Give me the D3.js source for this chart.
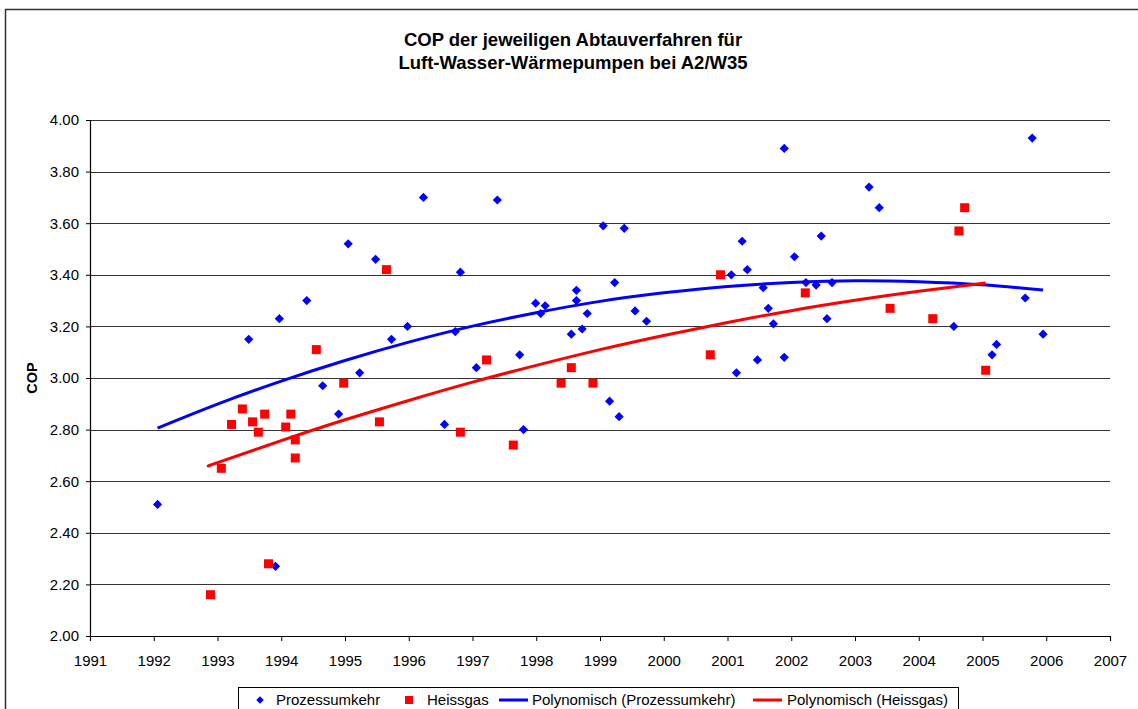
<!DOCTYPE html>
<html>
<head>
<meta charset="utf-8">
<script src="https://cdn.jsdelivr.net/npm/d3@7"></script>
<style>
  body { margin: 0; background: #fff; }
  text { font-family: "Liberation Sans", Arial, sans-serif; fill: #000; }
</style>
</head>
<body>
<div id="chart"></div>
<script>
// Prozessumkehr (blue diamonds)
var procYears = [1992.06,1993.49,1993.91,1993.97,1994.40,1994.65,1994.90,1995.05,1995.23,1995.48,
                 1995.73,1995.98,1996.23,1996.56,1996.73,1996.81,1997.06,1997.39,1997.74,1997.80,
                 1997.99,1998.07,1998.14,1998.55,1998.63,1998.63,1998.72,1998.80,1999.05,1999.15,
                 1999.23,1999.30,1999.38,1999.55,1999.73,2001.06,2001.14,2001.23,2001.31,2001.47,
                 2001.56,2001.64,2001.72,2001.89,2001.89,2002.05,2002.23,2002.39,2002.47,2002.56,
                 2002.64,2003.22,2003.38,2004.55,2005.15,2005.22,2005.67,2005.78,2005.95];
var procCop   = [2.51,3.15,2.27,3.23,3.30,2.97,2.86,3.52,3.02,3.46,
                 3.15,3.20,3.70,2.82,3.18,3.41,3.04,3.69,3.09,2.80,
                 3.29,3.25,3.28,3.17,3.34,3.30,3.19,3.25,3.59,2.91,
                 3.37,2.85,3.58,3.26,3.22,3.40,3.02,3.53,3.42,3.07,
                 3.35,3.27,3.21,3.89,3.08,3.47,3.37,3.36,3.55,3.23,
                 3.37,3.74,3.66,3.20,3.09,3.13,3.31,3.93,3.17];

// Heissgas (red squares)
var heissYears = [1992.89,1993.06,1993.22,1993.39,1993.55,1993.64,1993.74,1993.80,1994.07,1994.15,
                  1994.22,1994.22,1994.55,1994.98,1995.54,1995.65,1996.81,1997.22,1997.64,1998.39,
                  1998.55,1998.89,2000.73,2000.89,2002.22,2003.55,2004.22,2004.63,2004.72,2005.05];
var heissCop   = [2.16,2.65,2.82,2.88,2.83,2.79,2.86,2.28,2.81,2.86,
                  2.76,2.69,3.11,2.98,2.83,3.42,2.79,3.07,2.74,2.98,
                  3.04,2.98,3.09,3.40,3.33,3.27,3.23,3.57,3.66,3.03];

// trend lines
var trendProcYears = [1992.06,1993,1994,1995,1996,1997,1998,1999,2000,2001,2002,2003,2004,2005,2005.95];
var trendProcCop   = [2.806,2.899,2.988,3.068,3.139,3.201,3.253,3.297,3.330,3.355,3.370,3.377,3.373,3.361,3.341];
var trendHeissYears = [1992.89,1993,1994,1995,1996,1997,1998,1999,2000,2001,2002,2003,2004,2005.05];
var trendHeissCop   = [2.662,2.672,2.757,2.838,2.913,2.984,3.049,3.110,3.165,3.215,3.261,3.301,3.336,3.368];

var yearTicks = d3.range(1991, 2008);
var copTicks  = d3.range(0, 11).map(function(i) { return 2 + i * 0.2; });

var seriesNames = ["Prozessumkehr", "Heissgas", "Polynomisch (Prozessumkehr)", "Polynomisch (Heissgas)"];

var width = 1138, height = 709;
var plotLeft = 90, plotRight = 1110, plotTop = 120, plotBottom = 636;

var svg = d3.select("#chart").append("svg")
    .attr("width", width)
    .attr("height", height);

// outer chart frame
svg.append("rect")
    .attr("x", 5.5).attr("y", 9.5)
    .attr("width", 1160).attr("height", 760)
    .attr("fill", "none")
    .attr("stroke", "#333")
    .attr("stroke-width", 1.5);

var x = d3.scaleLinear().domain([1991, 2007]).range([plotLeft, plotRight]);
var y = d3.scaleLinear().domain([2, 4]).range([plotBottom, plotTop]);

// title
var title = svg.append("text")
    .attr("text-anchor", "middle")
    .style("font-size", "18.5px")
    .style("font-weight", "bold");
title.append("tspan").attr("x", 573).attr("y", 46).text("COP der jeweiligen Abtauverfahren für");
title.append("tspan").attr("x", 573).attr("y", 69).text("Luft-Wasser-Wärmepumpen bei A2/W35");

// gridlines
svg.append("g").selectAll("line")
    .data(copTicks.slice(1))
    .enter().append("line")
    .attr("x1", plotLeft).attr("x2", plotRight)
    .attr("y1", function(d) { return Math.round(y(d)) + 0.5; })
    .attr("y2", function(d) { return Math.round(y(d)) + 0.5; })
    .attr("stroke", "#333")
    .attr("stroke-width", 1);

// axes
var yAxis = svg.append("g")
    .attr("transform", "translate(" + plotLeft + ",0)")
    .call(d3.axisLeft(y).tickValues(copTicks).tickFormat(d3.format(".2f")).tickSize(4).tickPadding(7));
var xAxis = svg.append("g")
    .attr("transform", "translate(0," + plotBottom + ")")
    .call(d3.axisBottom(x).tickValues(yearTicks).tickFormat(d3.format("d")).tickSize(5).tickPadding(14));

[xAxis, yAxis].forEach(function(g) {
    g.select(".domain").attr("stroke", "#000").attr("stroke-width", 1.2);
    g.selectAll(".tick line").attr("stroke", "#000");
    g.selectAll("text").style("font-size", "15px").style("font-family", "'Liberation Sans', Arial, sans-serif").attr("fill", "#000");
});

// y axis title
svg.append("text")
    .attr("transform", "translate(37,378) rotate(-90)")
    .attr("text-anchor", "middle")
    .style("font-size", "14.5px")
    .style("font-weight", "bold")
    .text("COP");

// trend lines
var line = d3.line()
    .x(function(d) { return x(d[0]); })
    .y(function(d) { return y(d[1]); })
    .curve(d3.curveNatural);

svg.append("path")
    .datum(d3.zip(trendProcYears, trendProcCop))
    .attr("d", line)
    .attr("fill", "none")
    .attr("stroke", "#0000ff")
    .attr("stroke-width", 3);

svg.append("path")
    .datum(d3.zip(trendHeissYears, trendHeissCop))
    .attr("d", line)
    .attr("fill", "none")
    .attr("stroke", "#ff0000")
    .attr("stroke-width", 3);

// markers
var diamond = d3.symbol().type(d3.symbolDiamond2).size(54);
svg.append("g").selectAll("path")
    .data(d3.zip(procYears, procCop))
    .enter().append("path")
    .attr("d", diamond)
    .attr("transform", function(d) { return "translate(" + x(d[0]) + "," + y(d[1]) + ")"; })
    .attr("fill", "#0000ff");

svg.append("g").selectAll("rect")
    .data(d3.zip(heissYears, heissCop))
    .enter().append("rect")
    .attr("x", function(d) { return x(d[0]) - 4.5; })
    .attr("y", function(d) { return y(d[1]) - 4.5; })
    .attr("width", 9).attr("height", 9)
    .attr("fill", "#ff0000");

// legend
var legend = svg.append("g");
legend.append("rect")
    .attr("x", 238.5).attr("y", 687.5)
    .attr("width", 720).attr("height", 40)
    .attr("fill", "#fff")
    .attr("stroke", "#000")
    .attr("stroke-width", 1);

legend.append("path")
    .attr("d", d3.symbol().type(d3.symbolDiamond2).size(36))
    .attr("transform", "translate(260,700)")
    .attr("fill", "#0000ff");
legend.append("rect")
    .attr("x", 405).attr("y", 696).attr("width", 8).attr("height", 8)
    .attr("fill", "#ff0000");
legend.append("line")
    .attr("x1", 499).attr("x2", 528).attr("y1", 700).attr("y2", 700)
    .attr("stroke", "#0000ff").attr("stroke-width", 3);
legend.append("line")
    .attr("x1", 753).attr("x2", 782).attr("y1", 700).attr("y2", 700)
    .attr("stroke", "#ff0000").attr("stroke-width", 3);

var legendX = [276, 427, 532, 787];
legend.selectAll("text.item")
    .data(seriesNames)
    .enter().append("text")
    .attr("class", "item")
    .attr("x", function(d, i) { return legendX[i]; })
    .attr("y", 705)
    .style("font-size", "15px")
    .text(function(d) { return d; });
</script>
</body>
</html>
